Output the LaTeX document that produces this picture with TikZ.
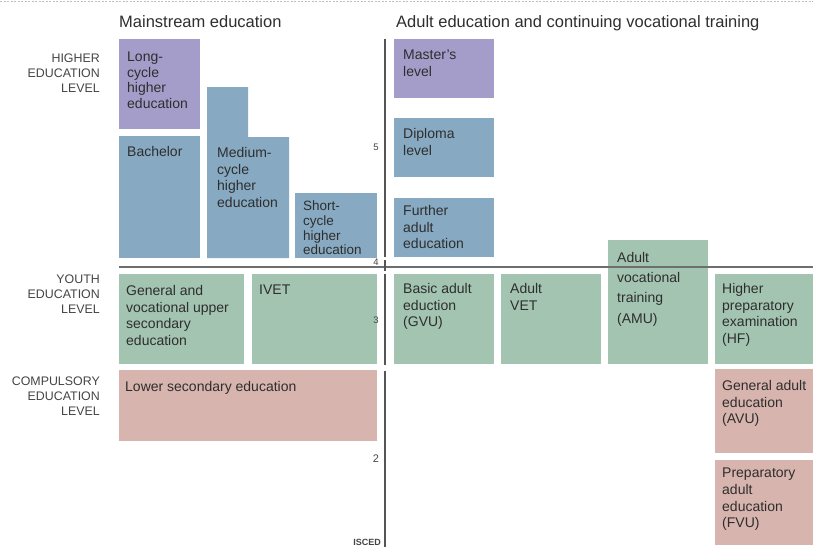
\documentclass[tikz,border=0pt]{standalone}
\usepackage{fontspec}
\setmainfont{Liberation Sans}
\definecolor{cpurple}{HTML}{A59DC9}
\definecolor{cblue}{HTML}{87AAC2}
\definecolor{cgreen}{HTML}{A3C4B1}
\definecolor{cpink}{HTML}{D8B4AE}
\definecolor{ctext}{HTML}{2E2E2E}
\definecolor{cside}{HTML}{444444}
\definecolor{caxis}{HTML}{555555}
\tikzset{
  boxtext/.style={anchor=north west, inner sep=0pt, align=left, text=ctext,
    font=\fontsize{14}{16.7}\selectfont},
  sidelabel/.style={anchor=north east, inner sep=0pt, align=right, text=cside,
    font=\fontsize{12.4}{15}\selectfont},
  titletext/.style={anchor=north west, inner sep=0pt, text=ctext,
    font=\fontsize{16.5}{19}\selectfont},
  numlabel/.style={inner sep=0pt, text=cside, font=\fontsize{9.5}{10}\selectfont},
  axisline/.style={line width=2pt, draw=caxis},
}
\begin{document}
\begin{tikzpicture}[x=1pt,y=-1pt]
\useasboundingbox (0,0) rectangle (813,547);
% top dotted border
\draw[gray!50, line width=0.8pt, dash pattern=on 2pt off 1.5pt] (0,1) -- (813,1);
% titles
\node[titletext] (tmain) at (119,15) {Mainstream education};
\node[titletext] (tadult) at (396,15) {Adult education and continuing vocational training};
% side labels
\node[sidelabel] (lhigher) at (100,54) {HIGHER\\EDUCATION\\LEVEL};
\node[sidelabel] (lyouth) at (100,275) {YOUTH\\EDUCATION\\LEVEL};
\node[sidelabel] (lcomp) at (100,377) {COMPULSORY\\EDUCATION\\LEVEL};
% mainstream boxes
\fill[cpurple] (119,39) rectangle (200,129);
\node[boxtext, font=\fontsize{14}{15.5}\selectfont] (long) at (127,52) {Long-\\cycle\\higher\\education};
\fill[cblue] (119,136) rectangle (200,258);
\node[boxtext] (bach) at (127,146) {Bachelor};
\fill[cblue] (207,87) -- (248,87) -- (248,137) -- (289,137) -- (289,258) -- (207,258) -- cycle;
\node[boxtext] (medium) at (217,147) {Medium-\\cycle\\higher\\education};
\fill[cblue] (295,193) rectangle (377,258);
\node[boxtext, font=\fontsize{13.5}{14.6}\selectfont] (short) at (303,201) {Short-\\cycle\\higher\\education};
\fill[cgreen] (119,274) rectangle (244,364);
\node[boxtext] (genvoc) at (126,285) {General and\\vocational upper\\secondary\\education};
\fill[cgreen] (252,274) rectangle (377,364);
\node[boxtext] (ivet) at (259,285) {IVET};
\fill[cpink] (119,370) rectangle (377,441);
\node[boxtext] (lower) at (125,381) {Lower secondary education};
% adult boxes
\fill[cpurple] (394,39) rectangle (494,98);
\node[boxtext] (master) at (403,50) {Master's\\level};
\fill[cblue] (394,118) rectangle (494,177);
\node[boxtext] (diploma) at (403,128) {Diploma\\level};
\fill[cblue] (394,198) rectangle (494,257);
\node[boxtext] (further) at (403,205) {Further\\adult\\education};
\fill[cgreen] (394,274) rectangle (494,364);
\node[boxtext] (basic) at (403,283) {Basic adult\\eduction\\(GVU)};
\fill[cgreen] (501,274) rectangle (601,364);
\node[boxtext] (avet) at (510,283) {Adult\\VET};
\fill[cgreen] (608,240) rectangle (708,364);
\node[boxtext, font=\fontsize{14}{20.3}\selectfont] (amu) at (617,252) {Adult\\vocational\\training\\(AMU)};
\fill[cgreen] (715,274) rectangle (813,364);
\node[boxtext] (hf) at (722,283) {Higher\\preparatory\\examination\\(HF)};
\fill[cpink] (715,369) rectangle (813,453);
\node[boxtext] (avu) at (722,380) {General adult\\education\\(AVU)};
\fill[cpink] (715,460) rectangle (813,545);
\node[boxtext] (fvu) at (722,468) {Preparatory\\adult\\education\\(FVU)};
% horizontal level line
\draw[draw=caxis!85, line width=1.2pt] (119,267) -- (813,267);
% axis
\draw[axisline] (385,39) -- (385,257);
\draw[axisline] (385,260) -- (385,271);
\draw[axisline] (385,274) -- (385,365);
\draw[axisline] (385,371) -- (385,547);
% ISCED numbers
\node[numlabel] (n5) at (376,147) {5};
\node[numlabel] (n4) at (376,262) {4};
\node[numlabel] (n3) at (376,320) {3};
\node[numlabel, font=\fontsize{11}{12}\selectfont] (n2) at (376,459) {2};
\node[numlabel, anchor=east, font=\bfseries\fontsize{9}{10}\selectfont] (isced) at (381,542) {ISCED};
\end{tikzpicture}
\end{document}
